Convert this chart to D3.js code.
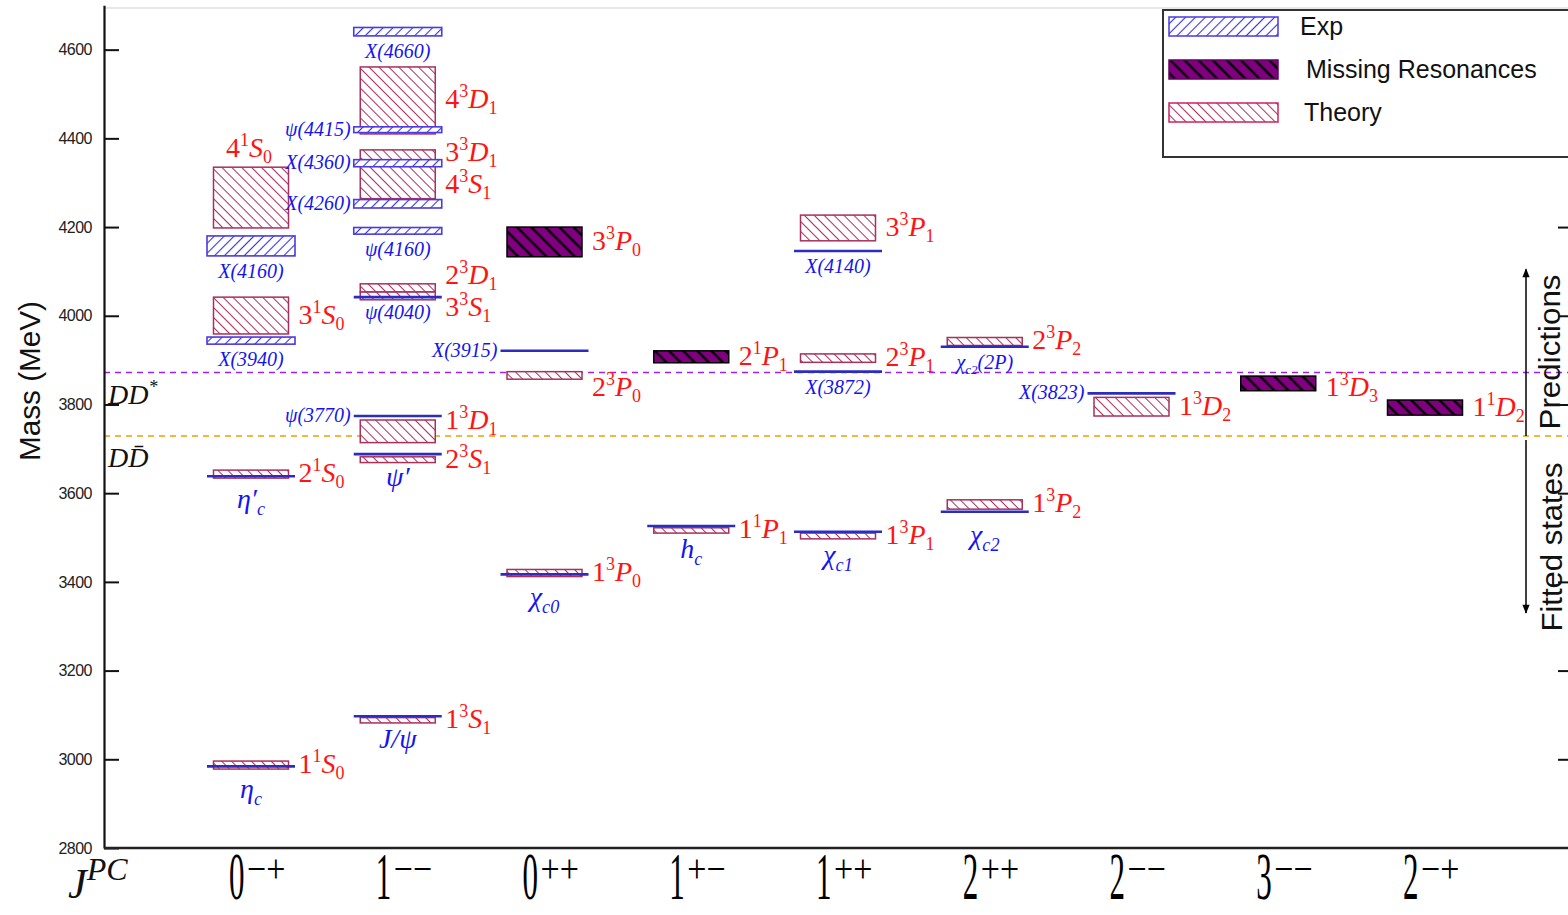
<!DOCTYPE html>
<html><head><meta charset="utf-8">
<script src="https://cdn.jsdelivr.net/npm/d3@7"></script>
<style>body{margin:0;background:#fff;} svg{display:block;}</style>
</head><body>
<svg id="chart" width="1568" height="915"></svg>
<script>
// ---------------- DATA ----------------
const categories = ["0-+","1--","0++","1+-","1++","2++","2--","3--","2-+"];
const catJ  = ["0","1","0","1","1","2","2","3","2"];
const catPC = ["\u2212+","\u2212\u2212","++","+\u2212","++","++","\u2212\u2212","\u2212\u2212","\u2212+"];
const yTicks = [2800,3000,3200,3400,3600,3800,4000,4200,4400,4600];

// experimental states (MeV): lo==hi -> single line, otherwise band
const expStates = [
  {col:"0-+", name:"η_c",      lo:2984, hi:2984, side:"below"},
  {col:"0-+", name:"η′_c",     lo:3638, hi:3638, side:"below"},
  {col:"0-+", name:"X(3940)",  lo:3936, hi:3952, side:"below"},
  {col:"0-+", name:"X(4160)",  lo:4135, hi:4180, side:"below"},
  {col:"1--", name:"J/ψ",      lo:3097, hi:3097, side:"below"},
  {col:"1--", name:"ψ′",       lo:3688, hi:3688, side:"below"},
  {col:"1--", name:"ψ(3770)",  lo:3774, hi:3774, side:"left"},
  {col:"1--", name:"ψ(4040)",  lo:4042, hi:4042, side:"below"},
  {col:"1--", name:"ψ(4160)",  lo:4184, hi:4199, side:"below"},
  {col:"1--", name:"X(4260)",  lo:4243, hi:4262, side:"left"},
  {col:"1--", name:"X(4360)",  lo:4336, hi:4352, side:"left"},
  {col:"1--", name:"ψ(4415)",  lo:4413, hi:4426, side:"left"},
  {col:"1--", name:"X(4660)",  lo:4631, hi:4650, side:"below"},
  {col:"0++", name:"χ_c0",     lo:3417, hi:3417, side:"below"},
  {col:"0++", name:"X(3915)",  lo:3921, hi:3921, side:"left"},
  {col:"1+-", name:"h_c",      lo:3526, hi:3526, side:"below"},
  {col:"1++", name:"χ_c1",     lo:3513, hi:3513, side:"below"},
  {col:"1++", name:"X(3872)",  lo:3874, hi:3874, side:"below"},
  {col:"1++", name:"X(4140)",  lo:4146, hi:4146, side:"below"},
  {col:"2++", name:"χ_c2",     lo:3558, hi:3558, side:"below"},
  {col:"2++", name:"χ_c2(2P)", lo:3930, hi:3930, side:"below"},
  {col:"2--", name:"X(3823)",  lo:3825, hi:3825, side:"left"}
];

// theory predictions n^{2S+1}L_J (MeV band)
const theoryStates = [
  {col:"0-+", n:1, s:1, L:"S", j:0, lo:2978, hi:2996, side:"right"},
  {col:"0-+", n:2, s:1, L:"S", j:0, lo:3634, hi:3652, side:"right"},
  {col:"0-+", n:3, s:1, L:"S", j:0, lo:3959, hi:4042, side:"right"},
  {col:"0-+", n:4, s:1, L:"S", j:0, lo:4198, hi:4335, side:"above"},
  {col:"1--", n:1, s:3, L:"S", j:1, lo:3082, hi:3094, side:"right"},
  {col:"1--", n:2, s:3, L:"S", j:1, lo:3669, hi:3682, side:"right"},
  {col:"1--", n:1, s:3, L:"D", j:1, lo:3714, hi:3765, side:"right"},
  {col:"1--", n:3, s:3, L:"S", j:1, lo:4036, hi:4054, side:"right"},
  {col:"1--", n:2, s:3, L:"D", j:1, lo:4054, hi:4072, side:"right"},
  {col:"1--", n:4, s:3, L:"S", j:1, lo:4264, hi:4340, side:"right"},
  {col:"1--", n:3, s:3, L:"D", j:1, lo:4345, hi:4374, side:"right"},
  {col:"1--", n:4, s:3, L:"D", j:1, lo:4410, hi:4561, side:"right"},
  {col:"0++", n:1, s:3, L:"P", j:0, lo:3412, hi:3428, side:"right"},
  {col:"0++", n:2, s:3, L:"P", j:0, lo:3857, hi:3874, side:"right"},
  {col:"1+-", n:1, s:1, L:"P", j:1, lo:3510, hi:3522, side:"right"},
  {col:"1++", n:1, s:3, L:"P", j:1, lo:3497, hi:3510, side:"right"},
  {col:"1++", n:2, s:3, L:"P", j:1, lo:3895, hi:3914, side:"right"},
  {col:"1++", n:3, s:3, L:"P", j:1, lo:4169, hi:4227, side:"right"},
  {col:"2++", n:1, s:3, L:"P", j:2, lo:3564, hi:3585, side:"right"},
  {col:"2++", n:2, s:3, L:"P", j:2, lo:3933, hi:3951, side:"right"},
  {col:"2--", n:1, s:3, L:"D", j:2, lo:3774, hi:3816, side:"right"}
];

// predicted, not yet observed
const missingStates = [
  {col:"0++", n:3, s:3, L:"P", j:0, lo:4133, hi:4200, side:"right"},
  {col:"1+-", n:2, s:1, L:"P", j:1, lo:3894, hi:3921, side:"right"},
  {col:"3--", n:1, s:3, L:"D", j:3, lo:3831, hi:3864, side:"right"},
  {col:"2-+", n:1, s:1, L:"D", j:2, lo:3776, hi:3810, side:"right"}
];

const thresholds = [
  {name:"DD*", mass:3872, color:"#a020f0"},
  {name:"DDbar", mass:3729, color:"#f0a000"}
];
const regionArrow = {top:4105, split:3729, bottom:3330};
const legendItems = ["Exp","Missing Resonances","Theory"];

// ---------------- DRAW ----------------
const left = 104, right = 1568, plotTop = 8, bottom = 848;
const svg = d3.select("#chart");
const y = d3.scaleLinear().domain([2800, 4700]).range([bottom, 5.3]);
const x = d3.scalePoint().domain(categories).range([251, 1425]);

const defs = svg.append("defs");
function hatch(id, angle, spacing, color, width, bg, dash) {
  const p = defs.append("pattern").attr("id", id).attr("patternUnits", "userSpaceOnUse")
    .attr("width", spacing).attr("height", spacing).attr("patternTransform", `rotate(${angle})`);
  p.append("rect").attr("width", spacing).attr("height", spacing).attr("fill", bg);
  const l = p.append("line").attr("x1", spacing/2).attr("y1", -1).attr("x2", spacing/2).attr("y2", spacing+1)
    .attr("stroke", color).attr("stroke-width", width);
  if (dash) l.attr("stroke-dasharray", dash);
}
hatch("expH", 45, 7, "#3434e0", 1.1, "#fff");
hatch("thH", -45, 7, "#b03060", 1, "#fff");
hatch("misH", -45, 10, "#000", 2.4, "#800080");

// frame top line
svg.append("line").attr("x1", left).attr("x2", right).attr("y1", plotTop).attr("y2", plotTop)
  .attr("stroke", "#cfcfcf").attr("stroke-width", 1);

// thresholds
svg.selectAll(".thr").data(thresholds).join("line")
  .attr("x1", left).attr("x2", right)
  .attr("y1", d => y(d.mass)).attr("y2", d => y(d.mass))
  .attr("stroke", d => d.color).attr("stroke-width", 1.6).attr("stroke-dasharray", "6,5");

const thrLab = svg.selectAll(".thrl").data(thresholds).join("text")
  .attr("x", left + 4).attr("y", d => y(d.mass) + 31)
  .attr("font-family", "Liberation Serif").attr("font-style", "italic").attr("font-size", 28).attr("fill", "#111");
thrLab.each(function(d) {
  const t = d3.select(this);
  if (d.name === "DD*") {
    t.append("tspan").text("DD");
    t.append("tspan").attr("font-size", 18).attr("dy", -11).text("*");
  } else {
    t.append("tspan").text("D");
    t.append("tspan").text("D\u0304");
  }
});

// theory boxes
const TH = 37.5, EH = 44;
svg.selectAll(".th").data(theoryStates).join("rect")
  .attr("x", d => x(d.col) - TH).attr("width", 2*TH)
  .attr("y", d => y(d.hi)).attr("height", d => Math.max(1, y(d.lo) - y(d.hi)))
  .attr("fill", "url(#thH)").attr("stroke", "#a8305c").attr("stroke-width", 1.5);

// missing boxes
svg.selectAll(".ms").data(missingStates).join("rect")
  .attr("x", d => x(d.col) - TH).attr("width", 2*TH)
  .attr("y", d => y(d.hi)).attr("height", d => Math.max(1, y(d.lo) - y(d.hi)))
  .attr("fill", "url(#misH)").attr("stroke", "#000").attr("stroke-width", 1.5);

// experimental bands and lines
const expBands = expStates.filter(d => d.hi > d.lo);
const expLines = expStates.filter(d => d.hi === d.lo);
svg.selectAll(".eb").data(expBands).join("rect")
  .attr("x", d => x(d.col) - EH).attr("width", 2*EH)
  .attr("y", d => y(d.hi)).attr("height", d => y(d.lo) - y(d.hi))
  .attr("fill", "url(#expH)").attr("stroke", "#4a3ae0").attr("stroke-width", 1.6);
svg.selectAll(".el").data(expLines).join("line")
  .attr("x1", d => x(d.col) - EH).attr("x2", d => x(d.col) + EH)
  .attr("y1", d => y(d.lo)).attr("y2", d => y(d.lo))
  .attr("stroke", "#2c2cc0").attr("stroke-width", 2.6);

// exp labels
function blueLabel(g, d, xp, yp, anchor) {
  const m = d.name.match(/^([^_]*)(?:_([a-z0-9]+))?(.*)$/);
  const small = d.name.includes("(");
  const fs = small ? 20 : 28;
  const t = g.append("text").attr("x", xp).attr("y", yp).attr("text-anchor", anchor)
    .attr("font-family", "Liberation Serif").attr("font-style", "italic")
    .attr("font-size", fs).attr("fill", "#1414f0");
  t.append("tspan").text(m[1]);
  if (m[2]) t.append("tspan").attr("font-size", fs*0.65).attr("dy", fs*0.25).text(m[2]);
  if (m[3]) {
    const r = t.append("tspan").text(m[3]);
    if (m[2]) r.attr("dy", -fs*0.25);
  }
}
const labG = svg.append("g");
expStates.forEach(d => {
  const small = d.name.includes("(");
  if (d.side === "left") {
    blueLabel(labG, d, x(d.col) - EH - 3, y((d.lo + d.hi)/2) + 6, "end");
  } else {
    blueLabel(labG, d, x(d.col), y(d.lo) + (small ? 22 : 32), "middle");
  }
});

// theory / missing labels: keep clear of threshold lines, then de-overlap per column
const redAll = theoryStates.concat(missingStates).map(d => Object.assign({}, d, {yc: y((d.lo + d.hi)/2)}));
const halfH = 13, clear = 15;
redAll.forEach(d => {
  thresholds.forEach(t => {
    const ty = y(t.mass);
    if (Math.abs(d.yc - ty) < halfH) d.yc = d.yc >= ty ? ty + clear : ty - clear;
  });
});
categories.forEach(c => {
  const list = redAll.filter(d => d.col === c && d.side === "right").sort((a, b) => a.yc - b.yc);
  for (let k = 0; k < 4; k++) {
    for (let i = 1; i < list.length; i++) {
      const gap = list[i].yc - list[i-1].yc;
      if (gap < 32) {
        const mid = (list[i].yc + list[i-1].yc) / 2;
        list[i-1].yc = mid - 16; list[i].yc = mid + 16;
      }
    }
  }
});
function termLabel(g, d, xp, yp, anchor) {
  const t = g.append("text").attr("x", xp).attr("y", yp).attr("text-anchor", anchor)
    .attr("font-family", "Liberation Serif").attr("font-size", 28).attr("fill", "#ff1414");
  t.append("tspan").text(d.n);
  t.append("tspan").attr("font-size", 18).attr("dy", -11).text(d.s);
  t.append("tspan").attr("font-style", "italic").attr("dy", 11).text(d.L);
  t.append("tspan").attr("font-size", 18).attr("dy", 6).text(d.j);
}
redAll.forEach(d => {
  if (d.side === "above") termLabel(labG, d, x(d.col) - 2, y(d.hi) - 10, "middle");
  else termLabel(labG, d, x(d.col) + TH + 10, d.yc + 8, "start");
});

// axes
const yAxis = d3.axisLeft(y).tickValues(yTicks).tickFormat(d3.format("d"))
  .tickSizeInner(-15).tickSizeOuter(0).tickPadding(12);
const ya = svg.append("g").attr("transform", `translate(${left},0)`).call(yAxis);
ya.select(".domain").attr("stroke", "#111").attr("stroke-width", 2.2);
ya.selectAll(".tick line").attr("stroke", "#111").attr("stroke-width", 2);
ya.selectAll(".tick text").attr("font-family", "Liberation Sans").attr("font-size", 16)
  .attr("fill", "#222").attr("letter-spacing", -0.5);

const yAxisR = d3.axisRight(y).tickValues(yTicks.filter(v => v > 2800)).tickFormat("").tickSizeInner(-10).tickSizeOuter(0);
const yr = svg.append("g").attr("transform", `translate(${right},0)`);
svg.append("line").attr("x1", left).attr("x2", right).attr("y1", bottom).attr("y2", bottom)
  .attr("stroke", "#222").attr("stroke-width", 2.4);

svg.append("text").attr("transform", `translate(40,381) rotate(-90)`).attr("text-anchor", "middle")
  .attr("font-family", "Liberation Sans").attr("font-size", 29).attr("fill", "#111")
  .attr("textLength", 160).attr("lengthAdjust", "spacingAndGlyphs").text("Mass (MeV)");

// category labels
const catG = svg.append("g");
categories.forEach((c, i) => {
  const cx = x(c) - 22;
  catG.append("text").attr("transform", `translate(${cx},899) scale(0.5,1.1)`)
    .attr("font-family", "Liberation Serif").attr("font-size", 62).attr("fill", "#000").text(catJ[i]);
  catG.append("text").attr("transform", `translate(${cx + 18},882) scale(0.85,1)`)
    .attr("font-family", "Liberation Serif").attr("font-size", 40).attr("fill", "#000").text(catPC[i]);
});
const jpc = svg.append("text").attr("x", 68).attr("y", 898).attr("font-family", "Liberation Serif")
  .attr("font-style", "italic").attr("font-size", 42).attr("fill", "#111");
jpc.append("tspan").text("J");
jpc.append("tspan").attr("font-size", 32).attr("dy", -18).text("PC");

// legend
const lg = svg.append("g");
lg.append("rect").attr("x", 1163).attr("y", 10).attr("width", 420).attr("height", 147)
  .attr("fill", "#fff").attr("stroke", "#333").attr("stroke-width", 2);
const legFill = ["url(#expH)", "url(#misH)", "url(#thH)"];
const legStroke = ["#4a3ae0", "#600060", "#d02060"];
const legY = d3.scalePoint().domain(legendItems).range([26, 112]);
const legTextX = [1300, 1306, 1304];
legendItems.forEach((name, i) => {
  lg.append("rect").attr("x", 1169).attr("y", legY(name) - 9).attr("width", 109).attr("height", 19)
    .attr("fill", legFill[i]).attr("stroke", legStroke[i]).attr("stroke-width", 1.5);
  lg.append("text").attr("x", legTextX[i]).attr("y", legY(name) + 9)
    .attr("font-family", "Liberation Sans").attr("font-size", 25).attr("fill", "#111").text(name);
});

// right axis mirror ticks (drawn over legend)
yr.call(yAxisR);
yr.select(".domain").remove();
yr.selectAll(".tick line").attr("stroke", "#111").attr("stroke-width", 2);

// predictions / fitted arrows
const ax = 1526;
const mk = defs.append("marker").attr("id", "arr").attr("viewBox", "0 0 10 10").attr("refX", 9).attr("refY", 5)
  .attr("markerWidth", 20).attr("markerHeight", 9).attr("orient", "auto-start-reverse").attr("markerUnits", "userSpaceOnUse");
mk.append("path").attr("d", "M0,1 L10,5 L0,9 Z").attr("fill", "#000");
svg.append("line").attr("x1", ax).attr("x2", ax).attr("y1", y(regionArrow.split)).attr("y2", y(regionArrow.top))
  .attr("stroke", "#000").attr("stroke-width", 1.5).attr("marker-end", "url(#arr)");
svg.append("line").attr("x1", ax).attr("x2", ax).attr("y1", y(regionArrow.split) + 4).attr("y2", y(regionArrow.bottom))
  .attr("stroke", "#000").attr("stroke-width", 1.5).attr("marker-end", "url(#arr)");
svg.append("text").attr("transform", `translate(1560,352) rotate(-90)`).attr("text-anchor", "middle")
  .attr("font-family", "Liberation Sans").attr("font-size", 30).attr("fill", "#111")
  .attr("textLength", 155).attr("lengthAdjust", "spacingAndGlyphs").text("Predictions");
svg.append("text").attr("transform", `translate(1562,547) rotate(-90)`).attr("text-anchor", "middle")
  .attr("font-family", "Liberation Sans").attr("font-size", 30).attr("fill", "#111")
  .attr("textLength", 169).attr("lengthAdjust", "spacingAndGlyphs").text("Fitted states");
</script>
</body></html>
